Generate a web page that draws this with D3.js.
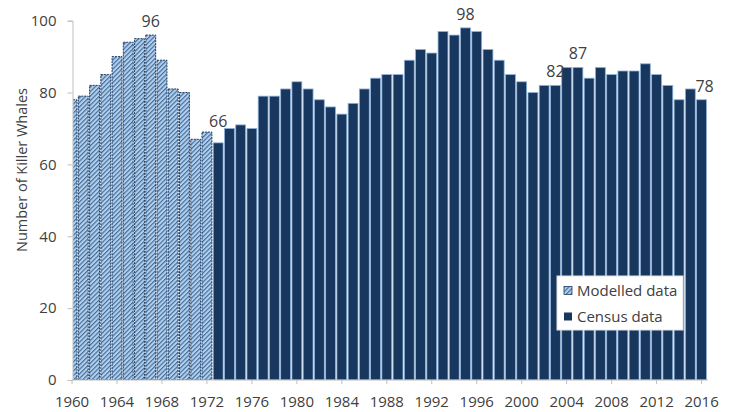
<!DOCTYPE html>
<html>
<head>
<meta charset="utf-8">
<script src="https://cdn.jsdelivr.net/npm/d3@7"></script>
<style>
  body { margin: 0; background: #fff; }
  svg { font-family: "Open Sans", sans-serif; }
</style>
</head>
<body>
<svg id="chart" width="735" height="412"></svg>
<script>
// modelled population (hatched bars)
const modelledYears = [1960, 1961, 1962, 1963, 1964, 1965, 1966, 1967, 1968, 1969, 1970, 1971, 1972];
const modelledCounts = [78, 79, 82, 85, 90, 94, 95, 96, 89, 81, 80, 67, 69];

// census counts (solid bars)
const censusYears = [1973, 1974, 1975, 1976, 1977, 1978, 1979, 1980, 1981, 1982,
                     1983, 1984, 1985, 1986, 1987, 1988, 1989, 1990, 1991, 1992,
                     1993, 1994, 1995, 1996, 1997, 1998, 1999, 2000, 2001, 2002,
                     2003, 2004, 2005, 2006, 2007, 2008, 2009, 2010, 2011, 2012,
                     2013, 2014, 2015, 2016];
const censusCounts = [66, 70, 71, 70, 79, 79, 81, 83, 81, 78,
                      76, 74, 77, 81, 84, 85, 85, 89, 92, 91,
                      97, 96, 98, 97, 92, 89, 85, 83, 80, 82,
                      82, 87, 87, 84, 87, 85, 86, 86, 88, 85,
                      82, 78, 81, 78];

const xTickYears = [1960, 1964, 1968, 1972, 1976, 1980, 1984, 1988, 1992, 1996, 2000, 2004, 2008, 2012, 2016];
const yTicks = [0, 20, 40, 60, 80, 100];
const labelledYears = [1967, 1973, 1995, 2003, 2005, 2016];

const legendNames = ["Modelled data", "Census data"];

function drawChart() {
    var svg = d3.select("#chart");
    var textColor = "#404040";
    var axisColor = "#bfbfbf";
    var navy = "#17375e";

    var allYears = modelledYears.concat(censusYears);
    var valueOf = {};
    modelledYears.forEach((yr, i) => valueOf[yr] = modelledCounts[i]);
    censusYears.forEach((yr, i) => valueOf[yr] = censusCounts[i]);

    // plot area edges
    var left = 73, right = 708, top = 20.7, bottom = 380;

    var x = d3.scaleBand()
        .domain(allYears)
        .range([67.1, 706.5])
        .paddingInner(0.12)
        .paddingOuter(0);

    var y = d3.scaleLinear()
        .domain([0, 100])
        .range([bottom, top]);

    // hatch pattern for the modelled bars
    var defs = svg.append("defs");
    var pat = defs.append("pattern")
        .attr("id", "hatch")
        .attr("patternUnits", "userSpaceOnUse")
        .attr("width", 3.2)
        .attr("height", 3.2)
        .attr("patternTransform", "rotate(45)");
    pat.append("rect").attr("width", 3.2).attr("height", 3.2).attr("fill", "#b4d0ee");
    pat.append("line")
        .attr("x1", 0.6).attr("y1", 0).attr("x2", 0.6).attr("y2", 3.2)
        .attr("stroke", "#3a6796").attr("stroke-width", 1.1);

    defs.append("clipPath").attr("id", "plotClip")
        .append("rect")
        .attr("x", left).attr("y", 0)
        .attr("width", right - left).attr("height", bottom);

    var plot = svg.append("g").attr("clip-path", "url(#plotClip)");

    plot.selectAll("rect.modelled")
        .data(modelledYears)
        .enter()
        .append("rect")
        .attr("class", "modelled")
        .attr("x", d => x(d))
        .attr("width", x.bandwidth())
        .attr("y", d => y(valueOf[d]))
        .attr("height", d => bottom - y(valueOf[d]))
        .attr("fill", "url(#hatch)")
        .attr("stroke", "#1f3d63")
        .attr("stroke-width", 1)
        .attr("stroke-dasharray", "2,1");

    plot.selectAll("rect.census")
        .data(censusYears)
        .enter()
        .append("rect")
        .attr("class", "census")
        .attr("x", d => x(d))
        .attr("width", x.bandwidth())
        .attr("y", d => y(valueOf[d]))
        .attr("height", d => bottom - y(valueOf[d]))
        .attr("fill", navy)
        .attr("stroke", "#8fb2d8")
        .attr("stroke-width", 0.8);

    // y axis
    var yAxis = svg.append("g")
        .attr("transform", "translate(" + (left - 0.5) + ",0)")
        .call(d3.axisLeft(y).tickValues(yTicks).tickSize(5).tickPadding(11));
    yAxis.select(".domain").attr("stroke", axisColor);
    yAxis.selectAll(".tick line").attr("stroke", axisColor);
    yAxis.selectAll(".tick text")
        .attr("fill", textColor)
        .style("font-size", "15px")
        .style("font-family", "'Open Sans', sans-serif");

    // x axis
    var xAxis = svg.append("g")
        .attr("transform", "translate(0," + bottom + ")")
        .call(d3.axisBottom(x).tickValues(xTickYears).tickSize(4).tickPadding(12).tickSizeOuter(0));
    xAxis.select(".domain")
        .attr("stroke", axisColor)
        .attr("d", "M" + (left - 0.5) + ",0H" + right);
    xAxis.selectAll(".tick line").attr("stroke", axisColor);
    xAxis.selectAll(".tick text")
        .attr("fill", textColor)
        .style("font-size", "15px")
        .style("font-family", "'Open Sans', sans-serif");

    // y axis title
    svg.append("text")
        .attr("transform", "translate(27,170) rotate(-90)")
        .attr("text-anchor", "middle")
        .attr("fill", textColor)
        .style("font-size", "14.5px")
        .text("Number of Killer Whales");

    // value labels; lift a label clear of a taller neighbour on its left
    svg.selectAll("text.vlabel")
        .data(labelledYears)
        .enter()
        .append("text")
        .attr("class", "vlabel")
        .attr("x", d => x(d) + x.bandwidth() / 2 + (d === 2016 ? 3 : 0))
        .attr("y", d => {
            var v = valueOf[d];
            var prev = valueOf[d - 1];
            if (prev !== undefined && prev > v && censusYears.indexOf(d) === 0) return y(prev) - 5;
            return y(v) - 8;
        })
        .attr("text-anchor", "middle")
        .attr("fill", textColor)
        .style("font-size", "16px")
        .text(d => valueOf[d]);

    // legend
    var legend = svg.append("g").attr("transform", "translate(557,276)");
    legend.append("rect")
        .attr("width", 126)
        .attr("height", 54)
        .attr("fill", "#fff")
        .attr("stroke", "#e3e3e3");

    var rows = legend.selectAll("g.row")
        .data(legendNames)
        .enter()
        .append("g")
        .attr("class", "row")
        .attr("transform", (d, i) => "translate(7," + (15 + i * 26) + ")");

    rows.append("rect")
        .attr("x", 0).attr("y", -4.5)
        .attr("width", 8).attr("height", 8)
        .attr("fill", (d, i) => i === 0 ? "url(#hatch)" : navy)
        .attr("stroke", (d, i) => i === 0 ? "#1f3d63" : "none")
        .attr("stroke-width", 0.8);

    rows.append("text")
        .attr("x", 13)
        .attr("y", 0)
        .attr("dy", "0.35em")
        .attr("fill", textColor)
        .style("font-size", "15px")
        .text(d => d);
}

drawChart();
</script>
</body>
</html>
